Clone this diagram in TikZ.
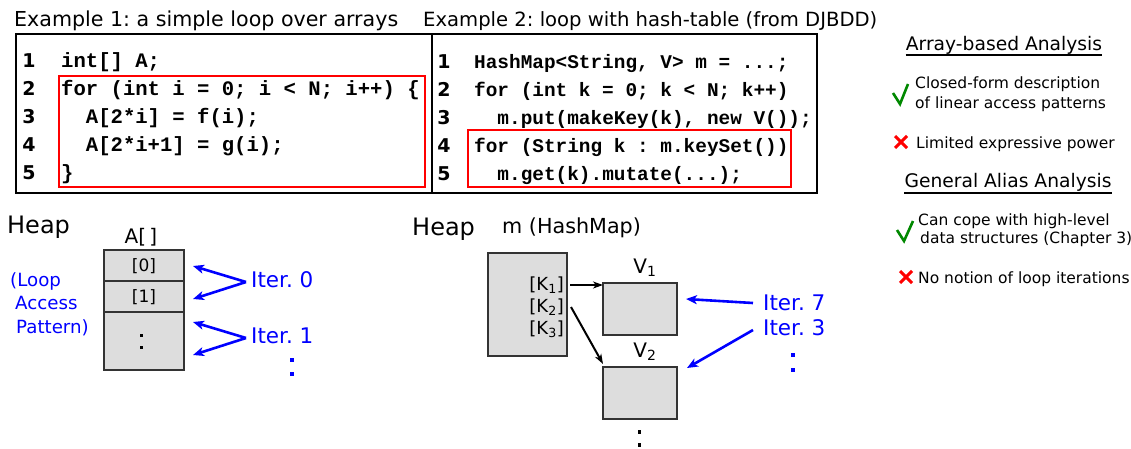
\documentclass[tikz,border=0pt]{standalone}
\usepackage{fontspec}
\setmainfont{DejaVu Sans}
\newfontfamily\codefont{Liberation Mono}
\usetikzlibrary{arrows.meta,calc}
\definecolor{boxgray}{HTML}{DDDDDD}
\definecolor{okgreen}{HTML}{008800}
\tikzset{
  title/.style={anchor=base west,inner sep=0pt},
  codeA/.style={anchor=base west,inner sep=0pt,font=\codefont\bfseries\fontsize{20.6}{24}\selectfont},
  codeB/.style={anchor=base west,inner sep=0pt,font=\codefont\bfseries\fontsize{19.4}{24}\selectfont},
  lnum/.style={anchor=base,inner sep=0pt,font=\bfseries\fontsize{19}{22}\selectfont},
  codebox/.style={draw=black,line width=2.4pt},
  loopbox/.style={draw=red,line width=2pt},
  cell/.style={draw=black!80,line width=1.3pt,fill=boxgray},
  heading/.style={anchor=base,inner sep=0pt,font=\fontsize{18.7}{22}\selectfont},
  item/.style={anchor=base west,inner sep=0pt,align=left,font=\fontsize{15.5}{18}\selectfont},
  label/.style={anchor=base,inner sep=0pt,font=\fontsize{20}{24}\selectfont},
  heaplabel/.style={anchor=base west,inner sep=0pt,font=\fontsize{24}{28}\selectfont},
  keylabel/.style={anchor=base east,inner sep=0pt,font=\fontsize{18}{22}\selectfont},
  iter/.style={anchor=base west,inner sep=0pt,text=blue,font=\fontsize{21.5}{25}\selectfont},
  bluearrow/.style={draw=blue,line width=2.6pt,-{Stealth[length=11pt,width=9pt,inset=3pt]}},
  blackarrow/.style={draw=black,line width=2pt,-{Stealth[length=10pt,width=7pt,inset=3pt]}},
  tick/.style={draw=okgreen,line width=2.6pt},
  cross/.style={draw=red,line width=3pt},
}
\begin{document}
\frenchspacing
\begin{tikzpicture}[x=1pt,y=-1pt]
\useasboundingbox (0,0) rectangle (1131,448);

% ---------- titles ----------
\node[title,font=\fontsize{20.6}{24}\selectfont] (t1) at (14,26) {Example 1: a simple loop over arrays};
\node[title,font=\fontsize{19.6}{24}\selectfont] (t2) at (423,26) {Example 2: loop with hash-table (from DJBDD)};

% ---------- code listing 1 ----------
\draw[codebox] (16,34) rectangle (432,193);
\draw[loopbox] (59,76) rectangle (425,187);
\foreach \n/\y in {1/67,2/95,3/123,4/151,5/179}
  \node[lnum] (na\n) at (29,\y) {\n};
\node[codeA] (a1) at (61,67)  {int[] A;};
\node[codeA] (a2) at (61,95)  {for (int i = 0; i < N; i++) \{};
\node[codeA] (a3) at (61,123) {\ \ A[2*i] = f(i);};
\node[codeA] (a4) at (61,151) {\ \ A[2*i+1] = g(i);};
\node[codeA] (a5) at (61,179) {\}};

% ---------- code listing 2 ----------
\draw[codebox] (432,34) rectangle (817,193);
\draw[loopbox] (468,130) rectangle (791,187);
\foreach \n/\y in {1/68,2/96,3/124,4/152,5/180}
  \node[lnum] (nb\n) at (444,\y) {\n};
\node[codeB] (b1) at (474,68)  {HashMap<String, V> m = ...;};
\node[codeB] (b2) at (474,96)  {for (int k = 0; k < N; k++)};
\node[codeB] (b3) at (474,124) {\ \ m.put(makeKey(k), new V());};
\node[codeB] (b4) at (474,152) {for (String k : m.keySet())};
\node[codeB] (b5) at (474,180) {\ \ m.get(k).mutate(...);};

% ---------- comparison panel ----------
\node[heading] (h1) at (1004,50) {Array-based Analysis};
\draw[line width=1.3pt] ($(h1.base west)+(0,5)$) -- ($(h1.base east)+(0,5)$);
\draw[tick] (893,93) -- (900,104) -- (908,84);
\node[item] (p1) at (915,88) {Closed-form description};
\node[item] (p1b) at (915,108) {of linear access patterns};
\draw[cross] (895,136) -- (907,148) (907,136) -- (895,148);
\node[item] (p2) at (916,148) {Limited expressive power};

\node[heading] (h2) at (1008,187) {General Alias Analysis};
\draw[line width=1.3pt] ($(h2.base west)+(0,6)$) -- ($(h2.base east)+(0,6)$);
\draw[tick] (897,230) -- (904,241) -- (913,221);
\node[item] (p3) at (918,225) {Can cope with high-level};
\node[item] (p3b) at (920,243) {data structures (Chapter 3)};
\draw[cross] (900,271) -- (912,283) (912,271) -- (900,283);
\node[item] (p4) at (918,283) {No notion of loop iterations};

% ---------- heap of example 1 ----------
\node[heaplabel] (heapA) at (7,233) {Heap};
\node[label] (arrlabel) at (141,243) {A[\,]};
\draw[cell] (104,250) rectangle (184,281);
\draw[cell] (104,281) rectangle (184,312);
\draw[cell] (104,312) rectangle (184,370);
\node[font=\fontsize{17}{20}\selectfont] (c0) at (144,266) {[0]};
\node[font=\fontsize{17}{20}\selectfont] (c1) at (144,297) {[1]};
\coordinate (c0tip) at (193,266);
\coordinate (c1tip) at (193,299);
\coordinate (c2tip) at (193,322);
\coordinate (c3tip) at (193,355);
\fill (139.5,333.5) rectangle ++(3.5,3.5);
\fill (139.5,345.5) rectangle ++(3.5,3.5);

\node[anchor=base west,inner sep=0pt,align=left,text=blue,
      font=\fontsize{18.2}{23.5}\selectfont] (lap) at (10,333)
  {(Loop\\\hspace{5pt}Access\\\hspace{6pt}Pattern)};

\node[iter] (i0) at (251,287) {Iter. 0};
\node[iter] (i1) at (251,343) {Iter. 1};
\coordinate (v0) at (246,282);
\coordinate (v1) at (246,338);
\draw[bluearrow] (v0) -- (c0tip);
\draw[bluearrow] (v0) -- (c1tip);
\draw[bluearrow] (v1) -- (c2tip);
\draw[bluearrow] (v1) -- (c3tip);
\fill[blue] (290,358) rectangle ++(4,4);
\fill[blue] (290,372) rectangle ++(4,4);

% ---------- heap of example 2 ----------
\node[heaplabel] (heapB) at (412,235) {Heap};
\node[anchor=base west,inner sep=0pt,font=\fontsize{20.7}{24}\selectfont] (mlabel) at (502,233) {m (HashMap)};
\draw[cell] (488,253) rectangle (567,356);
\node[keylabel] (k1) at (564,290) {[K\textsubscript{1}]};
\node[keylabel] (k2) at (564,312) {[K\textsubscript{2}]};
\node[keylabel] (k3) at (564,334) {[K\textsubscript{3}]};

\draw[cell] (603,283) rectangle (677,335);
\node[label] (v1lab) at (645,273) {V\textsubscript{1}};
\draw[cell] (603,367) rectangle (677,419);
\node[label] (v2lab) at (645,357) {V\textsubscript{2}};
\fill (637.5,430) rectangle ++(3.5,3.5);
\fill (637.5,443) rectangle ++(3.5,3.5);

\coordinate (k1out) at (570,285);
\coordinate (k2out) at (571,307);
\coordinate (v1in) at (603,285);
\coordinate (v2in) at (603,364);
\draw[blackarrow] (k1out) -- (v1in);
\draw[blackarrow] (k2out) -- (v2in);

\node[iter] (i7) at (763,310) {Iter. 7};
\node[iter] (i3) at (763,335) {Iter. 3};
\coordinate (i7out) at (753,303);
\coordinate (i3out) at (753,330);
\coordinate (v1right) at (686,299);
\coordinate (v2right) at (687,368);
\draw[bluearrow] (i7out) -- (v1right);
\draw[bluearrow] (i3out) -- (v2right);
\fill[blue] (791,353) rectangle ++(4,4);
\fill[blue] (791,368) rectangle ++(4,4);
\end{tikzpicture}
\end{document}
